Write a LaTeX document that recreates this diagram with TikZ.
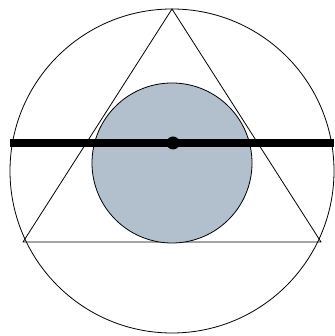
\documentclass[tikz,border=0pt]{standalone}
\usepackage{tikz}
\usetikzlibrary{positioning}
\definecolor{discgray}{RGB}{178,192,206}

\begin{document}
\begin{tikzpicture}[
    x=1pt, y=1pt,
    thin line/.style={draw=black, line width=0.8pt},
    bar/.style={draw=black, line width=8pt},
    disc/.style={thin line, fill=discgray}
]
\useasboundingbox (0,0) rectangle (334,336);

% Points
\coordinate (centre) at (172,165);
\coordinate (apex) at (172,327);
\coordinate (left) at (23,94);
\coordinate (right) at (321,94);
\coordinate (mid) at (172,173);
\coordinate (barL) at (10,193);
\coordinate (barR) at (334,193);
\coordinate (pivot) at (173,193);

% Outer circle and triangle
\draw[thin line] (centre) circle (162);
\draw[thin line] (apex) -- (left) -- (right) -- cycle;

% Inner disc
\draw[disc] (mid) circle (80);

% Bar and pivot
\draw[bar] (barL) -- (barR);
\fill[black] (pivot) circle (6.5);

\end{tikzpicture}
\end{document}
